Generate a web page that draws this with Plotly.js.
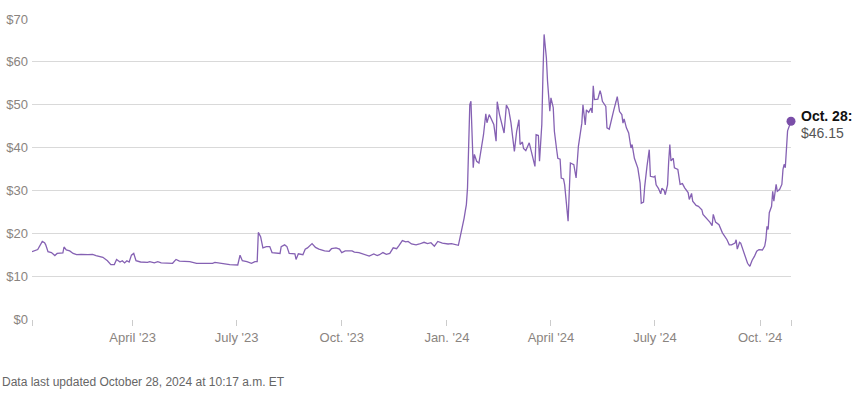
<!DOCTYPE html>
<html>
<head>
<meta charset="utf-8">
<script src="https://cdn.plot.ly/plotly-3.0.1.min.js"></script>
<style>
  html, body { margin: 0; padding: 0; background: #fff; }
  #chart { width: 860px; height: 394px; }
</style>
</head>
<body>
<div id="chart"></div>
<script>
const dates = [
  "2023-01-03","2023-01-08","2023-01-12","2023-01-14","2023-01-15","2023-01-17","2023-01-20","2023-01-23","2023-01-25","2023-01-30",
  "2023-01-31","2023-02-02","2023-02-05","2023-02-08","2023-02-11","2023-02-15","2023-02-21","2023-02-25","2023-02-28","2023-03-06",
  "2023-03-10","2023-03-13","2023-03-16","2023-03-18","2023-03-21","2023-03-23","2023-03-25","2023-03-27","2023-03-29","2023-03-31",
  "2023-04-02","2023-04-04","2023-04-08","2023-04-14","2023-04-16","2023-04-20","2023-04-23","2023-04-26","2023-05-06","2023-05-09",
  "2023-05-12","2023-05-21","2023-05-27","2023-06-10","2023-06-12","2023-06-20","2023-06-25","2023-07-02","2023-07-04","2023-07-06",
  "2023-07-10","2023-07-14","2023-07-17","2023-07-19","2023-07-20","2023-07-22","2023-07-24","2023-07-27","2023-07-30","2023-08-01",
  "2023-08-06","2023-08-08","2023-08-09","2023-08-12","2023-08-14","2023-08-16","2023-08-21","2023-08-22","2023-08-24","2023-08-28",
  "2023-08-30","2023-09-01","2023-09-05","2023-09-08","2023-09-11","2023-09-16","2023-09-20","2023-09-22","2023-09-26","2023-09-29",
  "2023-10-01","2023-10-04","2023-10-10","2023-10-12","2023-10-16","2023-10-18","2023-10-21","2023-10-25","2023-10-29","2023-11-01",
  "2023-11-03","2023-11-06","2023-11-09","2023-11-12","2023-11-15","2023-11-18","2023-11-20","2023-11-23","2023-11-26","2023-11-28",
  "2023-12-01","2023-12-05","2023-12-08","2023-12-12","2023-12-15","2023-12-18","2023-12-21","2023-12-24","2023-12-28","2024-01-02",
  "2024-01-05","2024-01-11","2024-01-13","2024-01-15","2024-01-16","2024-01-17","2024-01-18","2024-01-19","2024-01-20","2024-01-21",
  "2024-01-22","2024-01-24","2024-01-25","2024-01-27","2024-01-29","2024-01-30","2024-02-01","2024-02-02","2024-02-04","2024-02-05",
  "2024-02-07","2024-02-09","2024-02-11","2024-02-13","2024-02-14","2024-02-16","2024-02-18","2024-02-20","2024-02-22","2024-02-24",
  "2024-02-26","2024-02-27","2024-02-29","2024-03-02","2024-03-04","2024-03-05","2024-03-07","2024-03-08","2024-03-10","2024-03-13",
  "2024-03-15","2024-03-18","2024-03-19","2024-03-21","2024-03-22","2024-03-24","2024-03-25","2024-03-26","2024-03-28","2024-03-29",
  "2024-03-31","2024-04-01","2024-04-03","2024-04-04","2024-04-06","2024-04-07","2024-04-09","2024-04-10","2024-04-12","2024-04-13",
  "2024-04-16","2024-04-18","2024-04-21","2024-04-23","2024-04-25","2024-04-27","2024-04-28","2024-04-29","2024-05-01","2024-05-02",
  "2024-05-04","2024-05-06","2024-05-07","2024-05-08","2024-05-09","2024-05-12","2024-05-14","2024-05-15","2024-05-16","2024-05-19",
  "2024-05-20","2024-05-22","2024-05-24","2024-05-26","2024-05-28","2024-05-29","2024-05-31","2024-06-02","2024-06-03","2024-06-04",
  "2024-06-06","2024-06-08","2024-06-10","2024-06-11","2024-06-13","2024-06-15","2024-06-16","2024-06-18","2024-06-19","2024-06-21",
  "2024-06-22","2024-06-24","2024-06-26","2024-06-27","2024-06-30","2024-07-01","2024-07-02","2024-07-04","2024-07-06","2024-07-07",
  "2024-07-09","2024-07-10","2024-07-12","2024-07-13","2024-07-14","2024-07-15","2024-07-17","2024-07-18","2024-07-21","2024-07-23",
  "2024-07-25","2024-07-27","2024-07-30","2024-07-31","2024-08-02","2024-08-03","2024-08-06","2024-08-08","2024-08-11","2024-08-12",
  "2024-08-15","2024-08-18","2024-08-20","2024-08-21","2024-08-23","2024-08-26","2024-08-29","2024-08-31","2024-09-02","2024-09-04",
  "2024-09-06","2024-09-09","2024-09-10","2024-09-11","2024-09-13","2024-09-14","2024-09-16","2024-09-18","2024-09-20","2024-09-22",
  "2024-09-24","2024-09-26","2024-09-28","2024-09-30","2024-10-03","2024-10-05","2024-10-06","2024-10-07","2024-10-08","2024-10-09",
  "2024-10-11","2024-10-12","2024-10-13","2024-10-15","2024-10-16","2024-10-18","2024-10-20","2024-10-21","2024-10-22","2024-10-23",
  "2024-10-24","2024-10-25","2024-10-28"
];
const prices = [
  15.7,16.2,18.1,17.8,17.3,15.7,15.5,14.8,15.3,15.4,
  16.8,16.1,15.9,15.3,15.0,15.1,15.0,15.1,14.8,14.4,
  13.6,12.7,12.7,13.9,13.3,13.6,13.1,13.6,13.3,14.9,
  15.3,13.6,13.3,13.2,13.4,13.1,13.4,13.1,13.0,13.9,
  13.5,13.4,13.0,13.0,13.2,12.8,12.7,12.6,14.9,13.6,
  13.4,13.0,13.4,13.4,20.2,19.2,16.6,16.9,16.9,15.5,
  15.3,15.3,16.9,17.3,16.9,15.3,15.2,13.9,15.2,15.0,
  16.3,16.6,17.6,16.7,16.3,15.9,15.8,16.4,16.6,16.3,
  15.5,15.9,15.9,15.6,15.5,15.3,15.1,14.7,15.2,14.8,
  15.0,15.5,15.1,15.3,16.6,16.4,17.1,18.3,18.0,18.1,
  17.5,17.3,17.5,17.9,17.6,17.8,17.0,18.1,17.7,17.5,
  17.6,17.2,19.7,22.0,23.5,25.1,26.7,30.6,43.0,50.0,
  50.8,35.3,38.4,36.8,36.4,38.0,40.7,43.0,47.9,45.8,
  47.7,46.5,45.4,41.5,50.7,47.7,45.8,43.4,49.9,48.9,
  45.8,43.8,39.1,43.8,46.5,40.7,41.3,39.8,39.3,41.1,
  38.8,35.6,43.0,42.8,36.8,45.4,57.0,66.4,60.9,55.5,
  48.5,51.6,49.3,43.8,39.5,37.5,37.3,32.9,32.7,31.3,
  22.8,36.4,36.0,32.9,40.3,43.8,45.7,50.0,45.3,48.8,
  48.2,49.2,48.1,54.4,51.2,51.3,53.3,52.3,50.8,49.6,
  44.6,44.3,46.9,48.8,50.8,51.9,48.4,47.7,45.7,46.7,
  44.6,43.4,39.9,40.7,37.5,36.0,35.2,31.7,27.0,27.3,
  30.9,35.6,39.5,33.3,33.1,33.3,31.3,30.5,29.2,30.5,
  30.0,29.0,31.3,36.8,40.7,36.9,37.5,35.3,34.9,31.4,
  31.6,30.6,29.5,27.9,29.3,27.5,26.5,26.3,25.5,24.4,
  23.6,22.6,21.8,24.4,22.6,22.0,20.1,19.3,18.5,17.3,
  17.3,17.7,18.5,16.3,17.9,17.7,16.2,14.6,13.0,12.3,
  13.7,14.6,15.8,16.2,16.1,17.0,18.5,21.6,20.9,24.8,
  26.3,29.8,27.5,31.4,29.8,30.2,31.4,34.9,36.1,35.3,
  40.4,43.9,46.15
];
const tickDates = ["2023-01-03","2023-04-01","2023-07-01","2023-10-01","2024-01-01","2024-04-01","2024-07-01","2024-10-01","2024-10-28"];
const tickLabels = ["","April '23","July '23","Oct. '23","Jan. '24","April '24","July '24","Oct. '24",""];
const yTicks = [0,10,20,30,40,50,60,70];
const yLabels = ["$0","$10","$20","$30","$40","$50","$60","$70"];
const lastLabel = "Oct. 28:";
const lastValueText = "$46.15";
const footnote = "Data last updated October 28, 2024 at 10:17 a.m. ET";

const lastDate = dates[dates.length - 1];
const lastPrice = prices[prices.length - 1];

const traces = [
  {
    x: dates, y: prices, type: "scatter", mode: "lines",
    line: { color: "#8561b3", width: 1.3 },
    hoverinfo: "skip", cliponaxis: false
  },
  {
    x: [lastDate], y: [lastPrice], type: "scatter", mode: "markers",
    marker: { color: "#7a4ea8", size: 9 },
    hoverinfo: "skip", cliponaxis: false
  }
];

const FONT = "Arial, 'Liberation Sans', Helvetica, sans-serif";
const layout = {
  width: 860, height: 394,
  margin: { l: 32, r: 69, t: 19, b: 75 },
  paper_bgcolor: "#ffffff", plot_bgcolor: "#ffffff",
  showlegend: false,
  font: { family: FONT, size: 13, color: "#8a8480" },
  xaxis: {
    type: "date",
    range: ["2023-01-03", "2024-10-28"],
    tickmode: "array", tickvals: tickDates, ticktext: tickLabels,
    showgrid: false, zeroline: false,
    showline: false,
    ticks: "outside", ticklen: 6, tickcolor: "#cccccc", tickwidth: 1,
    tickfont: { family: FONT, size: 13, color: "#8a8480" },
    fixedrange: true
  },
  yaxis: {
    range: [0, 70],
    tickmode: "array", tickvals: yTicks, ticktext: yLabels,
    showgrid: true, gridcolor: "#d9d9d9", gridwidth: 1,
    zeroline: false, showline: false, ticks: "",
    ticklabelstandoff: 3,
    tickfont: { family: FONT, size: 13, color: "#8a8480" },
    fixedrange: true
  },
  annotations: [
    {
      x: lastDate, y: lastPrice, xref: "x", yref: "y",
      text: "<b>" + lastLabel + "</b>", showarrow: false,
      xanchor: "left", yanchor: "middle", xshift: 8, yshift: 5,
      font: { family: FONT, size: 14, color: "#111111" }
    },
    {
      x: lastDate, y: lastPrice, xref: "x", yref: "y",
      text: lastValueText, showarrow: false,
      xanchor: "left", yanchor: "middle", xshift: 8, yshift: -12,
      font: { family: FONT, size: 14, color: "#555555" }
    },
    {
      x: 0, y: 382, xref: "paper", yref: "paper",
      text: footnote, showarrow: false
    }
  ]
};
// footnote placed in pixel terms via paper coords
layout.annotations[2] = {
  x: -32 / (860 - 32 - 69), y: -(382 - 319) / (394 - 19 - 75),
  xref: "paper", yref: "paper", xanchor: "left", yanchor: "middle",
  text: footnote, showarrow: false,
  font: { family: FONT, size: 12, color: "#666666" }
};

Plotly.newPlot("chart", traces, layout, { displayModeBar: false, staticPlot: true });
</script>
</body>
</html>
